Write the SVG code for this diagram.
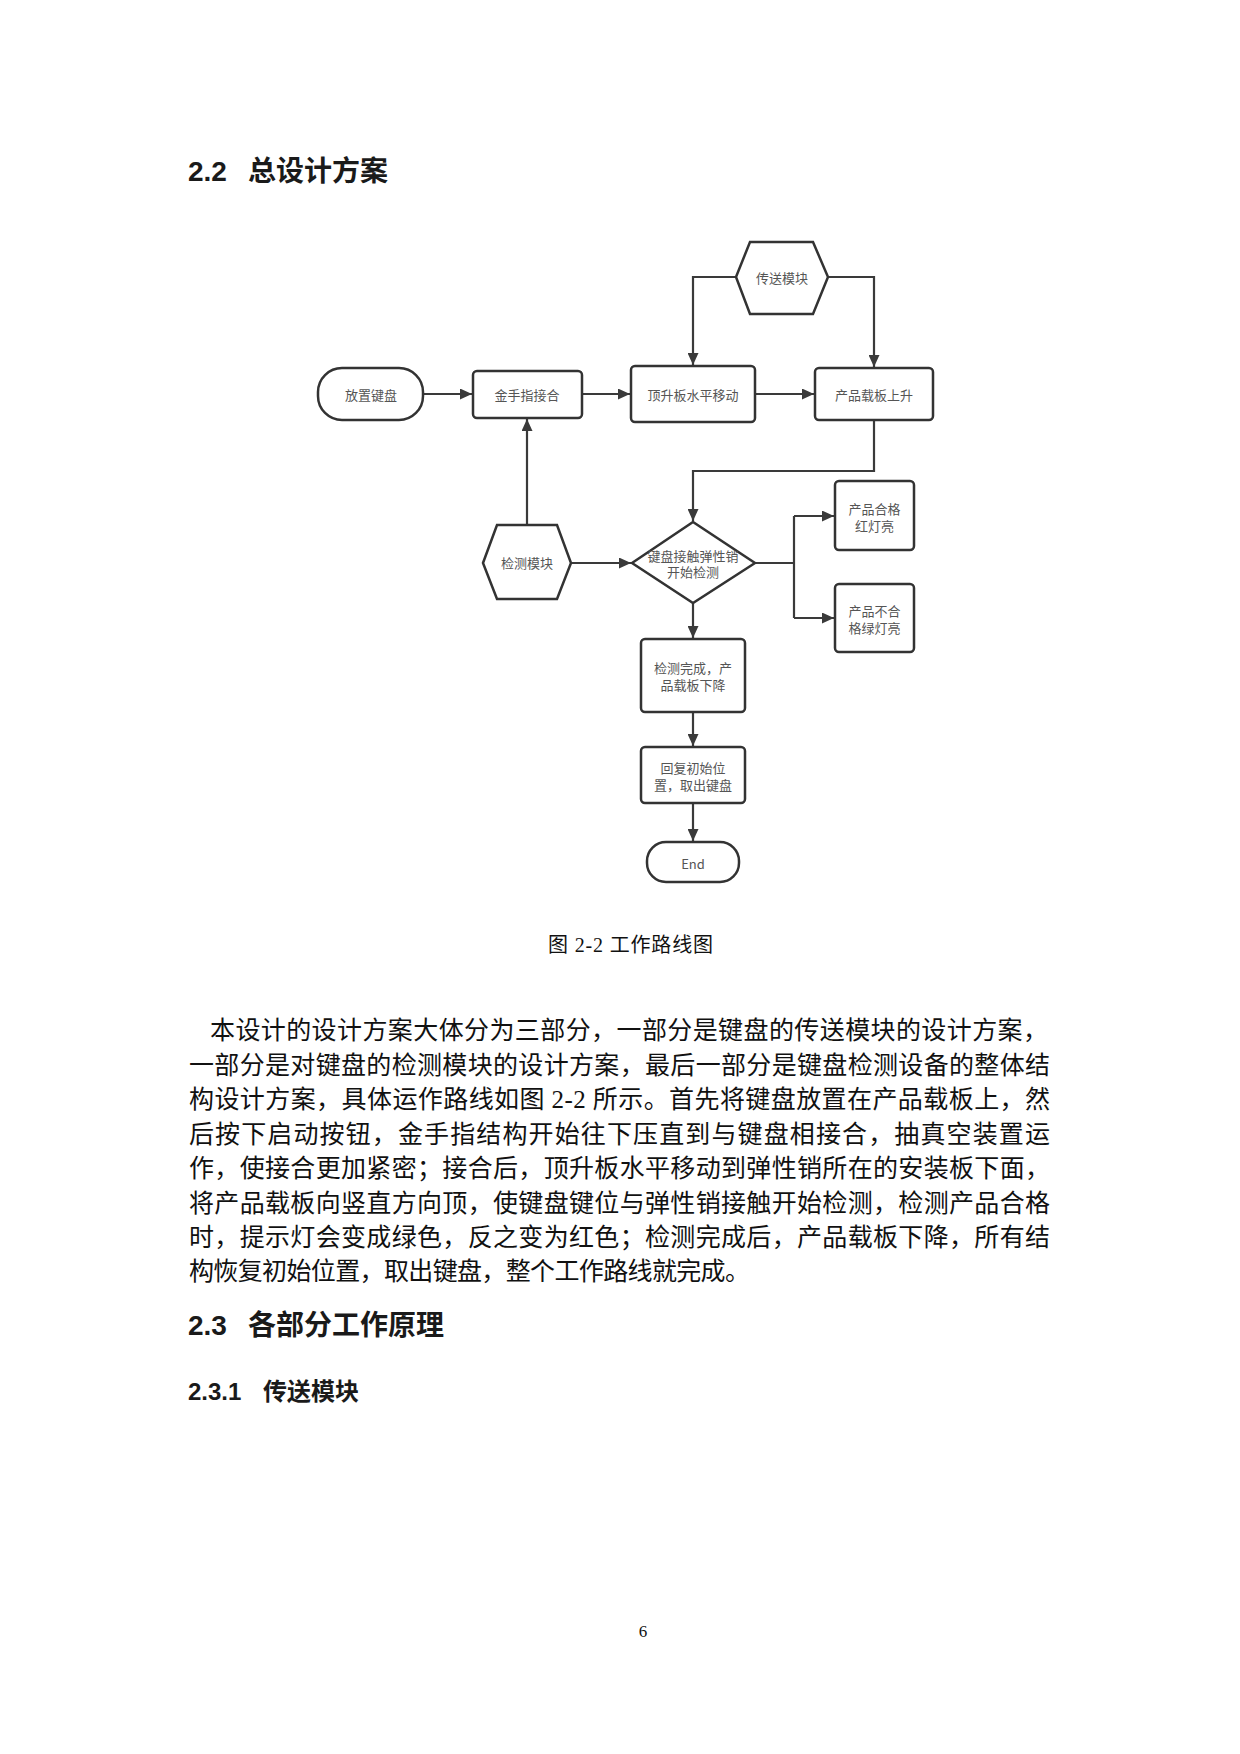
<svg xmlns="http://www.w3.org/2000/svg" width="1240" height="1754" viewBox="0 0 1240 1754">
<style>
.bg{fill:#ffffff}
.node{fill:#ffffff;stroke:#333333;stroke-width:2.5}
.lbl{font-family:"Noto Sans CJK SC","Liberation Sans",sans-serif;font-size:13px;fill:#555555;text-anchor:middle;dominant-baseline:central}
.conn{fill:none;stroke:#3a3a3a;stroke-width:2.2}
.h1{font-family:"Noto Sans CJK SC","Liberation Sans",sans-serif;font-size:28px;font-weight:bold;fill:#1a1a1a}
.h2{font-family:"Noto Sans CJK SC","Liberation Sans",sans-serif;font-size:24px;font-weight:bold;fill:#1a1a1a}
.hnum{font-family:"Liberation Sans","Noto Sans CJK SC",sans-serif}
.body{font-family:"Liberation Serif","Noto Sans CJK SC",serif;font-size:25px;fill:#111111}
.cap{font-family:"Liberation Serif","Noto Sans CJK SC",serif;font-size:20px;fill:#111111}
</style>
<defs>
<marker id="arr" markerUnits="userSpaceOnUse" markerWidth="13" markerHeight="11" refX="12" refY="5.5" orient="auto">
<path d="M0,0 L12,5.5 L0,11 z" fill="#3a3a3a"/>
</marker>
</defs>
<rect class="bg" x="0" y="0" width="1240" height="1754"/>

<text class="h1" x="188" y="181"><tspan class="hnum">2.2</tspan><tspan x="248">总设计方案</tspan></text>

<g id="connectors">
<path class="conn" d="M423,394 L472,394" marker-end="url(#arr)"/>
<path class="conn" d="M582,394 L630,394" marker-end="url(#arr)"/>
<path class="conn" d="M755,394 L814,394" marker-end="url(#arr)"/>
<path class="conn" d="M736,277 L693,277 L693,365" marker-end="url(#arr)"/>
<path class="conn" d="M828,277 L874,277 L874,367" marker-end="url(#arr)"/>
<path class="conn" d="M874,420 L874,471 L693,471 L693,521" marker-end="url(#arr)"/>
<path class="conn" d="M527,525 L527,419" marker-end="url(#arr)"/>
<path class="conn" d="M571,563 L631,563" marker-end="url(#arr)"/>
<path class="conn" d="M755,563 L794,563"/>
<path class="conn" d="M794,516 L794,618"/>
<path class="conn" d="M794,516 L834,516" marker-end="url(#arr)"/>
<path class="conn" d="M794,618 L834,618" marker-end="url(#arr)"/>
<path class="conn" d="M693,603 L693,638" marker-end="url(#arr)"/>
<path class="conn" d="M693,712 L693,746" marker-end="url(#arr)"/>
<path class="conn" d="M693,803 L693,841" marker-end="url(#arr)"/>
</g>

<g id="n-place">
<rect class="node" x="318" y="368" width="105" height="52" rx="24" ry="24"/>
<text class="lbl" x="371" y="394">放置键盘</text>
</g>
<g id="n-goldfinger">
<rect class="node" x="473" y="371" width="109" height="47" rx="4"/>
<text class="lbl" x="527" y="394">金手指接合</text>
</g>
<g id="n-lift">
<rect class="node" x="631" y="366" width="124" height="56" rx="4"/>
<text class="lbl" x="693" y="394">顶升板水平移动</text>
</g>
<g id="n-carrier">
<rect class="node" x="815" y="368" width="118" height="52" rx="4"/>
<text class="lbl" x="874" y="394">产品载板上升</text>
</g>
<g id="n-transfer">
<polygon class="node" points="736,277 750,242 813,242 828,277 813,314 750,314"/>
<text class="lbl" x="782" y="277">传送模块</text>
</g>
<g id="n-detect">
<polygon class="node" points="483,563 497,525 557,525 571,563 557,599 497,599"/>
<text class="lbl" x="527" y="562">检测模块</text>
</g>
<g id="n-contact">
<polygon class="node" points="632,563 693,522 755,563 693,603"/>
<text class="lbl" x="693" y="555">键盘接触弹性销</text>
<text class="lbl" x="693" y="571">开始检测</text>
</g>
<g id="n-pass">
<rect class="node" x="835" y="481" width="79" height="69" rx="4"/>
<text class="lbl" x="874.5" y="508">产品合格</text>
<text class="lbl" x="874.5" y="525">红灯亮</text>
</g>
<g id="n-fail">
<rect class="node" x="835" y="584" width="79" height="68" rx="4"/>
<text class="lbl" x="874.5" y="610">产品不合</text>
<text class="lbl" x="874.5" y="627">格绿灯亮</text>
</g>
<g id="n-done">
<rect class="node" x="641" y="639" width="104" height="73" rx="4"/>
<text class="lbl" x="693" y="667">检测完成，产</text>
<text class="lbl" x="693" y="684">品载板下降</text>
</g>
<g id="n-reset">
<rect class="node" x="641" y="747" width="104" height="56" rx="4"/>
<text class="lbl" x="693" y="767">回复初始位</text>
<text class="lbl" x="693" y="784">置，取出键盘</text>
</g>
<g id="n-end">
<rect class="node" x="647" y="842" width="92" height="40" rx="19" ry="19"/>
<text class="lbl" x="693" y="863">End</text>
</g>

<text class="cap" x="548" y="952" textLength="165" lengthAdjust="spacing">图 2-2 工作路线图</text>

<text class="body" x="210" y="1039" textLength="838" lengthAdjust="spacing">本设计的设计方案大体分为三部分，一部分是键盘的传送模块的设计方案，</text>
<text class="body" x="189" y="1073.5" textLength="861" lengthAdjust="spacing">一部分是对键盘的检测模块的设计方案，最后一部分是键盘检测设备的整体结</text>
<text class="body" x="189" y="1108" textLength="861" lengthAdjust="spacing">构设计方案，具体运作路线如图 2-2 所示。首先将键盘放置在产品载板上，然</text>
<text class="body" x="189" y="1142.5" textLength="861" lengthAdjust="spacing">后按下启动按钮，金手指结构开始往下压直到与键盘相接合，抽真空装置运</text>
<text class="body" x="189" y="1177" textLength="861" lengthAdjust="spacing">作，使接合更加紧密；接合后，顶升板水平移动到弹性销所在的安装板下面，</text>
<text class="body" x="189" y="1211.5" textLength="861" lengthAdjust="spacing">将产品载板向竖直方向顶，使键盘键位与弹性销接触开始检测，检测产品合格</text>
<text class="body" x="189" y="1246" textLength="861" lengthAdjust="spacing">时，提示灯会变成绿色，反之变为红色；检测完成后，产品载板下降，所有结</text>
<text class="body" x="189" y="1280" textLength="561" lengthAdjust="spacing">构恢复初始位置，取出键盘，整个工作路线就完成。</text>

<text class="h1" x="188" y="1335"><tspan class="hnum">2.3</tspan><tspan x="248">各部分工作原理</tspan></text>
<text class="h2" x="188" y="1400"><tspan class="hnum">2.3.1</tspan><tspan x="263">传送模块</tspan></text>

<text x="643" y="1637" text-anchor="middle" style="font-family:'Liberation Serif',serif;font-size:17px;fill:#111">6</text>
</svg>
